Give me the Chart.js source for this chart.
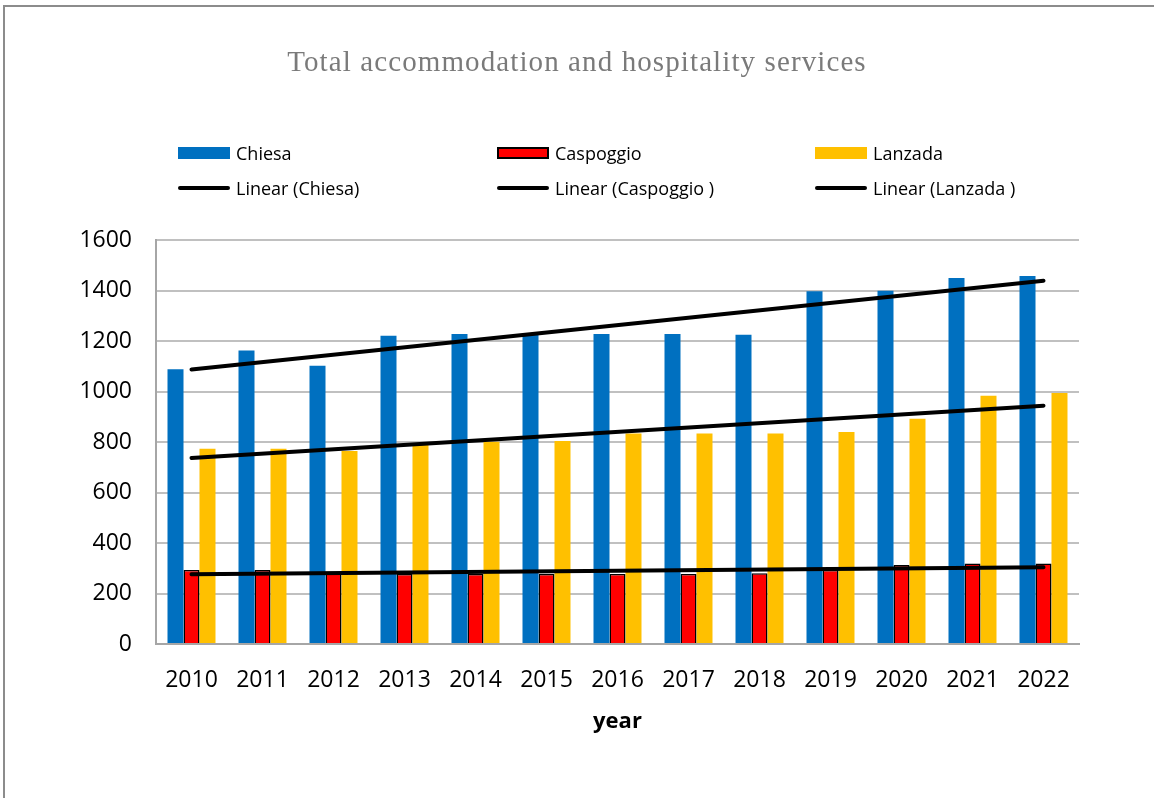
<!DOCTYPE html>
<html lang="en">
<head>
<meta charset="UTF-8">
<title>Total accommodation and hospitality services</title>
<script src="https://cdn.jsdelivr.net/npm/chart.js"></script>
<style>
  body { margin: 0; background: #fff; }
  #wrap { position: relative; width: 1154px; height: 798px; overflow: hidden; }
  #frame {
    position: absolute; left: 3px; top: 5px; right: -10px; bottom: -10px;
    border-top: 2px solid #8c8c8c; border-left: 2px solid #8c8c8c;
  }
  #chart { position: absolute; left: 0; top: 0; }
  #title {
    position: absolute; left: 0; top: 47px; width: 1154px;
    text-align: center; line-height: 1;
    font-family: "Liberation Serif", serif; font-size: 29px;
    letter-spacing: 1.1px; color: #7a7a7a;
  }
  .legend-item {
    position: absolute; height: 24px; display: flex; align-items: center;
    font-family: "Open Sans", sans-serif; font-size: 18px; color: #000; white-space: pre;
  }
  .swatch { width: 52px; height: 12px; margin-right: 6px; box-sizing: border-box; }
  .swatch.line { height: 4px; border-radius: 2px; }
</style>
</head>
<body>
<div id="wrap">
  <canvas id="chart" width="1154" height="798"></canvas>
  <div id="frame"></div>
  <div id="title">Total accommodation and hospitality services</div>
  <div id="legend"></div>
</div>

<script>
  const years = ['2010', '2011', '2012', '2013', '2014', '2015', '2016',
                 '2017', '2018', '2019', '2020', '2021', '2022'];
  const chiesa    = [1088, 1162, 1102, 1221, 1228, 1225, 1228, 1228, 1225, 1397, 1399, 1450, 1457];
  const caspoggio = [293, 293, 280, 277, 277, 277, 277, 277, 280, 293, 313, 319, 319];
  const lanzada   = [773, 773, 764, 788, 801, 804, 834, 834, 834, 840, 892, 983, 994];

  // trend line end points (first and last year)
  const trendYears     = ['2010', '2022'];
  const chiesaTrend    = [1087, 1439];
  const caspoggioTrend = [276, 304];
  const lanzadaTrend   = [737, 944];

  const yMin = 0, yMax = 1600, yStep = 200;

  const tickFont = { family: 'Open Sans', size: 23 };

  function trend(label, values) {
    return {
      type: 'line',
      label: label,
      data: trendYears.map((x, i) => ({ x: x, y: values[i] })),
      borderColor: '#000',
      backgroundColor: '#000',
      borderWidth: 4,
      borderCapStyle: 'round',
      pointRadius: 0,
      tension: 0,
      order: 1
    };
  }

  const chart = new Chart(document.getElementById('chart'), {
    type: 'bar',
    data: {
      labels: years,
      datasets: [
        { label: 'Chiesa', data: chiesa, backgroundColor: '#0070c0', order: 2 },
        { label: 'Caspoggio', data: caspoggio, backgroundColor: '#ff0000',
          borderColor: '#000', borderWidth: 1.5, order: 2 },
        { label: 'Lanzada', data: lanzada, backgroundColor: '#ffc000', order: 2 },
        trend('Linear (Chiesa)', chiesaTrend),
        trend('Linear (Caspoggio )', caspoggioTrend),
        trend('Linear (Lanzada )', lanzadaTrend)
      ]
    },
    options: {
      responsive: false,
      animation: false,
      devicePixelRatio: 1,
      categoryPercentage: 0.676,
      barPercentage: 1,
      layout: { padding: { top: 240, right: 75, bottom: 0, left: 0 } },
      plugins: {
        legend: { display: false },
        title: { display: false },
        tooltip: { enabled: false }
      },
      scales: {
        x: {
          grid: { display: false },
          border: { display: true, color: '#a6a6a6', width: 2 },
          ticks: { font: tickFont, color: '#000', padding: 15 },
          title: {
            display: true, text: 'year', color: '#000', padding: 63,
            font: { family: 'Open Sans', size: 22, weight: 'bold' }
          },
          afterFit: s => { s.height = 154; }
        },
        y: {
          min: yMin, max: yMax,
          ticks: {
            stepSize: yStep, font: tickFont, color: '#000', padding: 24,
            callback: v => String(v)
          },
          grid: { color: '#c0c0c0', lineWidth: 2, drawTicks: false },
          border: { color: '#a6a6a6', width: 2 },
          afterFit: s => { s.width = 156; }
        }
      }
    }
  });

  // legend laid out in a 3 x 2 grid from the chart's datasets
  const legendCols = [178, 497, 815];
  const legendRows = [141, 176];
  const legend = document.getElementById('legend');
  chart.data.datasets.forEach((ds, i) => {
    const item = document.createElement('div');
    item.className = 'legend-item';
    item.style.left = legendCols[i % 3] + 'px';
    item.style.top = legendRows[Math.floor(i / 3)] + 'px';
    const sw = document.createElement('span');
    sw.className = 'swatch' + (ds.type === 'line' ? ' line' : '');
    sw.style.background = ds.backgroundColor;
    if (ds.type !== 'line' && ds.borderWidth) {
      sw.style.border = '2px solid ' + ds.borderColor;
    }
    item.appendChild(sw);
    item.appendChild(document.createTextNode(ds.label));
    legend.appendChild(item);
  });
</script>
</body>
</html>
